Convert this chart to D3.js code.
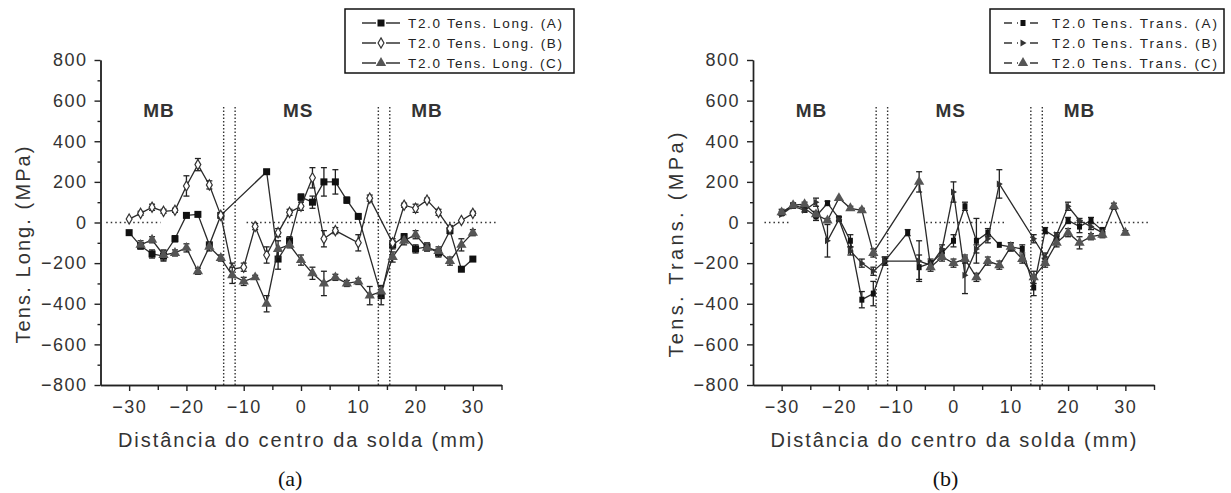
<!DOCTYPE html>
<html>
<head>
<meta charset="utf-8">
<script src="https://cdn.jsdelivr.net/npm/d3@7"></script>
<style>
    body { margin: 0; background: #fff; }
    svg { display: block; font-family: "Liberation Sans", Arial, sans-serif; }
    .axis path, .axis line { stroke: #222; stroke-width: 1.4; }
    .axis text { font-size: 18px; letter-spacing: 1.5px; fill: #333; }
</style>
</head>
<body>
<svg id="chart" width="1231" height="493"></svg>
<script>
// Axis ticks
const xTicks = [-30, -20, -10, 0, 10, 20, 30];
const xMinor = [-25, -15, -5, 5, 15, 25, 35];
const yTicks = [-800, -600, -400, -200, 0, 200, 400, 600, 800];
const yMinor = [-700, -500, -300, -100, 100, 300, 500, 700];

// Zone boundaries (mm) and zone labels
const zoneBounds = [-13.5, -11.5, 13.5, 15.5];
const zoneLabels = [["MB", -24.8], ["MS", -0.5], ["MB", 22]];

// visible pieces of the dotted zero line (mm)
const zeroLong = [[-34, -24.5], [-9.5, 34]];
const zeroTrans = [[-33, -28.5], [-4.8, 9.2], [15.6, 34]];

// [distance mm, stress MPa, error MPa]
const longA = [[-30,-50,0],[-28,-115,15],[-26,-155,20],[-24,-165,25],[-22,-80,15],[-20,35,0],[-18,40,0],
    [-16,-110,0],[-14,35,10],[-6,250,10],[-4,-180,50],[-2,-90,20],[0,125,15],[2,100,30],[4,200,70],
    [6,200,60],[8,110,15],[10,30,10],[14,-360,45],[16,-110,20],[18,-70,15],[20,-130,20],[22,-120,20],
    [24,-150,20],[26,-40,15],[28,-230,0],[30,-180,10]];
const longB = [[-30,17,0],[-28,45,10],[-26,75,15],[-24,55,10],[-22,60,10],[-20,180,50],[-18,285,30],
    [-16,185,20],[-14,35,10],[-12,-230,30],[-10,-220,20],[-8,-20,15],[-6,-160,40],[-4,-50,20],[-2,50,15],
    [0,80,20],[2,220,50],[4,-80,40],[6,-40,15],[10,-100,40],[12,120,15],[16,-100,20],[18,85,10],
    [20,70,20],[22,110,10],[24,50,15],[26,-30,15],[28,10,0],[30,45,10]];
const longC = [[-28,-110,20],[-26,-85,15],[-24,-160,25],[-22,-150,15],[-20,-125,20],[-18,-240,15],
    [-16,-120,20],[-14,-175,15],[-12,-260,40],[-10,-290,20],[-8,-270,10],[-6,-400,40],[-4,-130,40],
    [-2,-110,15],[0,-185,25],[2,-250,30],[4,-300,60],[6,-270,15],[8,-300,15],[10,-290,15],[12,-360,45],
    [14,-340,30],[16,-170,25],[18,-90,20],[20,-60,20],[22,-125,15],[24,-140,20],[26,-190,20],
    [28,-110,30],[30,-50,15]];

const transA = [[-30,45,10],[-28,85,10],[-26,70,15],[-24,30,20],[-22,95,10],[-20,20,10],[-18,-90,30],
    [-16,-380,40],[-14,-350,60],[-12,-190,20],[-8,-50,15],[-6,-220,60],[-4,-200,20],[-2,-150,20],
    [0,-90,30],[2,80,20],[4,-90,110],[6,-50,20],[8,-110,0],[10,-120,20],[12,-130,20],[14,-320,40],
    [16,-40,15],[18,-75,10],[20,10,15],[22,-20,30],[24,10,15],[26,-40,15]];
const transB = [[-30,40,0],[-28,80,10],[-26,60,10],[-24,100,20],[-22,-90,80],[-20,15,10],[-18,-140,20],
    [-16,-200,20],[-14,-240,20],[-12,-190,20],[-6,-190,100],[-4,-210,20],[-2,-130,20],[0,150,50],
    [2,-260,90],[4,-130,20],[6,-80,20],[8,190,70],[14,-80,20],[16,-170,20],[18,-60,10],[20,80,20],
    [22,10,10],[24,-20,15],[26,-50,15]];
const transC = [[-30,50,15],[-28,85,10],[-26,90,10],[-24,40,15],[-22,10,10],[-20,120,0],[-18,70,10],
    [-16,60,10],[-14,-150,20],[-6,200,50],[-4,-220,20],[-2,-170,20],[0,-200,20],[2,-180,20],[4,-270,20],
    [6,-190,20],[8,-210,20],[10,-120,20],[12,-180,20],[14,-270,30],[16,-200,20],[18,-100,20],
    [20,-50,20],[22,-100,30],[24,-70,15],[26,-60,15],[28,80,15],[30,-50,10]];

const longNames = ["T2.0 Tens. Long. (A)", "T2.0 Tens. Long. (B)", "T2.0 Tens. Long. (C)"];
const transNames = ["T2.0 Tens. Trans. (A)", "T2.0 Tens. Trans. (B)", "T2.0 Tens. Trans. (C)"];

// Layout
const plotTop = 60, plotH = 325, plotW = 401;
const svg = d3.select("#chart");

// marker painters
const markers = {
    square: (g, c) => g.append("rect").attr("x", -3.5).attr("y", -3.5).attr("width", 7).attr("height", 7).attr("fill", c),
    smallSquare: (g, c) => g.append("rect").attr("x", -2.5).attr("y", -3).attr("width", 5).attr("height", 6).attr("fill", c),
    diamond: (g, c) => g.append("path").attr("d", d3.symbol(d3.symbolDiamond, 30)()).attr("fill", "#fff").attr("stroke", c).attr("stroke-width", 1.2),
    triangle: (g, c) => g.append("path").attr("d", d3.symbol(d3.symbolTriangle, 46)()).attr("fill", c),
    rightTri: (g, c) => g.append("path").attr("d", "M-2.5,-3.5L3.5,0L-2.5,3.5Z").attr("fill", c)
};

function drawPanel(p) {
    const g = svg.append("g").attr("transform", `translate(${p.left},${plotTop})`);
    const x = d3.scaleLinear().domain([-35, 35]).range([0, plotW]);
    const y = d3.scaleLinear().domain([-800, 800]).range([plotH, 0]);

    // dotted zero line
    g.selectAll("line.zero")
        .data(p.zero)
        .enter()
        .append("line")
        .attr("class", "zero")
        .attr("x1", (d) => x(d[0])).attr("x2", (d) => x(d[1]))
        .attr("y1", y(0)).attr("y2", y(0))
        .attr("stroke", "#333").attr("stroke-width", 1.4).attr("stroke-dasharray", "1.5,3");

    // zone boundary lines
    g.selectAll("line.zone")
        .data(zoneBounds)
        .enter()
        .append("line")
        .attr("class", "zone")
        .attr("x1", (d) => x(d)).attr("x2", (d) => x(d))
        .attr("y1", y(-800)).attr("y2", y(575))
        .attr("stroke", "#333").attr("stroke-width", 1.4).attr("stroke-dasharray", "1.5,2");

    // axes
    g.append("g").attr("class", "axis")
        .attr("transform", `translate(0,${plotH})`)
        .call(d3.axisBottom(x).tickValues(xTicks).tickSize(6).tickSizeOuter(0).tickPadding(9));
    g.append("g").attr("class", "axis")
        .attr("transform", `translate(0,${plotH})`)
        .call(d3.axisBottom(x).tickValues(xMinor).tickSize(5).tickSizeOuter(0).tickFormat(""));
    g.append("g").attr("class", "axis")
        .call(d3.axisLeft(y).tickValues(yTicks).tickSize(6).tickSizeOuter(0).tickPadding(7));
    g.append("g").attr("class", "axis")
        .call(d3.axisLeft(y).tickValues(yMinor).tickSize(3).tickSizeOuter(0).tickFormat(""));

    const line = d3.line().x((d) => x(d[0])).y((d) => y(d[1]));

    p.series.forEach((s) => {
        g.append("path")
            .datum(s.data)
            .attr("d", line)
            .attr("fill", "none")
            .attr("stroke", "#2a2a2a")
            .attr("stroke-width", 1.3);

        // error bars
        const eb = g.append("g").attr("stroke", "#222").attr("stroke-width", 1.3);
        s.data.filter((d) => d[2] > 0).forEach((d) => {
            const cx = x(d[0]);
            eb.append("line").attr("x1", cx).attr("x2", cx).attr("y1", y(d[1] - d[2])).attr("y2", y(d[1] + d[2]));
            eb.append("line").attr("x1", cx - 3).attr("x2", cx + 3).attr("y1", y(d[1] - d[2])).attr("y2", y(d[1] - d[2]));
            eb.append("line").attr("x1", cx - 3).attr("x2", cx + 3).attr("y1", y(d[1] + d[2])).attr("y2", y(d[1] + d[2]));
        });

        s.data.forEach((d) => {
            const mg = g.append("g").attr("transform", `translate(${x(d[0])},${y(d[1])})`);
            markers[s.marker](mg, s.color);
        });
    });

    // zone labels
    g.selectAll("text.zone")
        .data(zoneLabels)
        .enter()
        .append("text")
        .attr("x", (d) => x(d[1]))
        .attr("y", 57)
        .attr("text-anchor", "middle")
        .attr("font-size", 19)
        .attr("font-weight", "bold")
        .attr("letter-spacing", 1)
        .attr("fill", "#333")
        .text((d) => d[0]);

    // axis titles
    g.append("text")
        .attr("x", x(0))
        .attr("y", 387)
        .attr("text-anchor", "middle")
        .attr("font-size", 20)
        .attr("fill", "#333")
        .attr("textLength", 366)
        .attr("lengthAdjust", "spacing")
        .text("Distância do centro da solda (mm)");
    g.append("text")
        .attr("transform", `translate(${p.yTitleX},${245 - plotTop}) rotate(-90)`)
        .attr("text-anchor", "middle")
        .attr("font-size", 20)
        .attr("fill", "#333")
        .attr("textLength", p.yTitleLen)
        .attr("lengthAdjust", "spacing")
        .text(p.yTitle);

    // caption
    svg.append("text")
        .attr("x", p.left + x(p.captionAt))
        .attr("y", 486)
        .attr("text-anchor", "middle")
        .attr("font-family", "'Liberation Serif', 'Times New Roman', serif")
        .attr("font-size", 22)
        .attr("fill", "#111")
        .text(p.caption);

    // legend
    const lg = svg.append("g").attr("transform", `translate(${p.legend.x},${p.legend.y})`);
    lg.append("rect")
        .attr("width", p.legend.w).attr("height", 64)
        .attr("fill", "#fff").attr("stroke", "#111").attr("stroke-width", 1.5);
    p.series.forEach((s, i) => {
        const row = lg.append("g").attr("transform", `translate(0,${14 + i * 20})`);
        row.append("line").attr("x1", p.legend.sx).attr("x2", p.legend.sx + 38)
            .attr("stroke", "#333").attr("stroke-width", 1.3)
            .attr("stroke-dasharray", p.legend.dash);
        const mg = row.append("g").attr("transform", `translate(${p.legend.sx + 19},0)`);
        mg.append("rect").attr("x", -5).attr("y", -3).attr("width", 10).attr("height", 6).attr("fill", "#fff");
        markers[s.marker](mg, s.color);
        row.append("text")
            .attr("x", p.legend.tx)
            .attr("y", 5)
            .attr("font-size", 13.5)
            .attr("fill", "#222")
            .attr("textLength", p.legend.tw)
            .attr("lengthAdjust", "spacing")
            .text(s.name);
    });
}

drawPanel({
    left: 100.5,
    zero: zeroLong,
    series: [
        { data: longA, marker: "square", color: "#111", name: longNames[0] },
        { data: longB, marker: "diamond", color: "#333", name: longNames[1] },
        { data: longC, marker: "triangle", color: "#555", name: longNames[2] }
    ],
    yTitle: "Tens. Long. (MPa)", yTitleX: -71, yTitleLen: 197,
    caption: "(a)", captionAt: -1.9,
    legend: { x: 345, y: 9, w: 229, sx: 17, tx: 63, tw: 154, dash: null }
});

drawPanel({
    left: 753,
    zero: zeroTrans,
    series: [
        { data: transA, marker: "smallSquare", color: "#111", name: transNames[0] },
        { data: transB, marker: "rightTri", color: "#333", name: transNames[1] },
        { data: transC, marker: "triangle", color: "#555", name: transNames[2] }
    ],
    yTitle: "Tens. Trans. (MPa)", yTitleX: -70, yTitleLen: 225,
    caption: "(b)", captionAt: -1.4,
    legend: { x: 990, y: 9, w: 234, sx: 14, tx: 62, tw: 165, dash: "8,5" }
});
</script>
</body>
</html>
